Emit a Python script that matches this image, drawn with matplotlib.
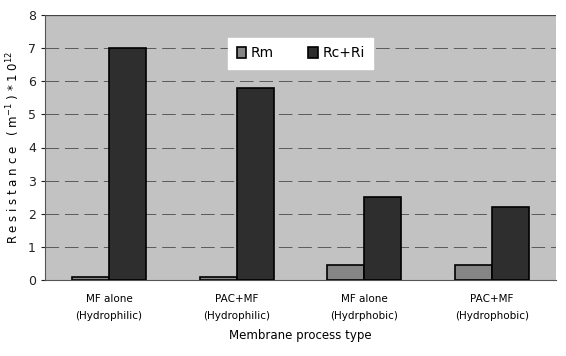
import matplotlib
matplotlib.use("Agg")
import matplotlib.pyplot as plt
import numpy as np

categories = ["MF alone\n(Hydrophilic)", "PAC+MF\n(Hydrophilic)", "MF alone\n(Hydrphobic)", "PAC+MF\n(Hydrophobic)"]
rm = [0.1, 0.1, 0.45, 0.45]
rc_ri = [7.0, 5.8, 2.5, 2.2]

fig = plt.figure(figsize=(5.66, 3.56), dpi=100)
ax = fig.add_axes([45/566, 1-280/356, 511/566, 265/356])
ax.set_facecolor("#c2c2c2")

x = np.arange(len(categories))
w = 0.29
ax.bar(x - w/2, rm, w, color="#858585", edgecolor="black", linewidth=1.2, label="Rm", zorder=3)
ax.bar(x + w/2, rc_ri, w, color="#2e2e2e", edgecolor="black", linewidth=1.2, label="Rc+Ri", zorder=3)

ax.set_xlim(-0.5, 3.5)
ax.set_ylim(0, 8)
ax.set_yticks(range(0, 9))
ax.yaxis.grid(True, color="#5a5a5a", linestyle=(0, (14, 6)), linewidth=0.7, zorder=1)
ax.set_axisbelow(True)
ax.axhline(8, color="#444444", linewidth=0.9, zorder=2)
ax.set_xticks(x)
ax.set_xticklabels(categories, fontsize=7.5, linespacing=1.9)
ax.tick_params(axis="x", length=0, pad=10)
ax.tick_params(axis="y", length=3, labelsize=9, colors="#222222")
for s in ["top", "right"]:
    ax.spines[s].set_visible(False)
ax.spines["bottom"].set_color("#555555")
ax.spines["left"].set_color("#555555")

ax.set_ylabel("R e s i s t a n c e   ( m$^{-1}$ ) * 1 0$^{12}$", fontsize=8.5)
ax.set_xlabel("Membrane process type", fontsize=8.5, labelpad=6)

leg = ax.legend(loc="upper center", bbox_to_anchor=(0.5, 0.94), ncol=2, fontsize=10,
                frameon=True, fancybox=False, edgecolor="white", framealpha=1,
                handlelength=0.7, handleheight=0.9, columnspacing=2.5, handletextpad=0.3,
                borderpad=0.6)

fig.savefig("out.png", dpi=100, facecolor="white")
